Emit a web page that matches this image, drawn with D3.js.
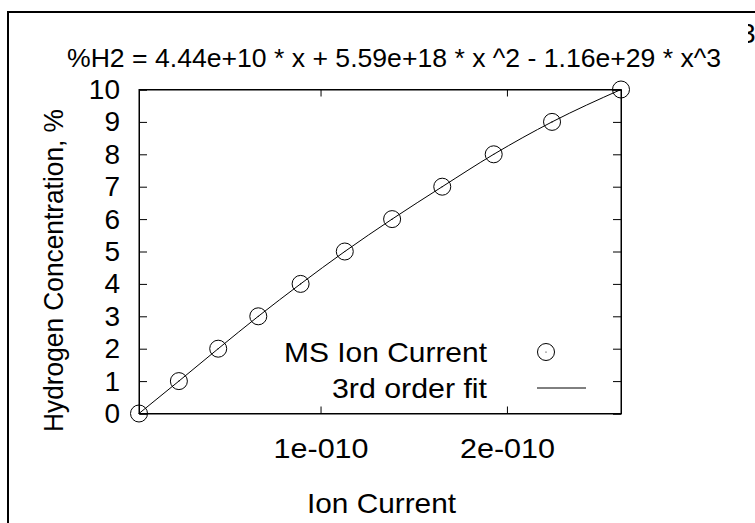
<!DOCTYPE html>
<html>
<head>
<meta charset="utf-8">
<script src="https://cdn.jsdelivr.net/npm/d3@7"></script>
<style>
  body { margin: 0; background: #fff; }
  text { font-family: "Liberation Sans", Arial, sans-serif; fill: #000; }
</style>
</head>
<body>
<div id="chart"></div>
<script>
// data
const ionCurrent = [2.6e-12, 2.40e-11, 4.51e-11, 6.66e-11, 8.93e-11, 1.130e-10,
                    1.384e-10, 1.653e-10, 1.929e-10, 2.242e-10, 2.612e-10];
const h2Percent = [0, 1, 2, 3, 4, 5, 6, 7, 8, 9, 10];
// fit curve as read at the same currents
const fitPercent = [0, 1.0, 2.0, 3.0, 4.0, 5.0, 6.0, 7.0, 8.0, 9.0, 10.0];
const yTicks = [0, 1, 2, 3, 4, 5, 6, 7, 8, 9, 10];
const xTicks = [1e-10, 2e-10];
const xTickLabels = ["1e-010", "2e-010"];
const seriesNames = ["MS Ion Current", "3rd order fit"];
const titleText = "%H2 = 4.44e+10 * x + 5.59e+18 * x ^2 - 1.16e+29 * x^3";

const W = 755, H = 523;
const FS = "28px";
const margin = {top: 89.5, right: 134, bottom: 109.5, left: 139};
const width = W - margin.left - margin.right,
      height = H - margin.top - margin.bottom;

const svg = d3.select("#chart")
    .append("svg")
    .attr("width", W)
    .attr("height", H);

// outer frame (runs off the right and bottom edges)
svg.append("path")
    .attr("d", `M8,${H + 5}V12H${W + 5}`)
    .attr("fill", "none")
    .attr("stroke", "#000")
    .attr("stroke-width", 2);

// clipped glyph at the top right
svg.append("clipPath").attr("id", "edgeClip")
    .append("rect").attr("x", 748).attr("y", 0).attr("width", 10).attr("height", 60);
svg.append("text")
    .attr("clip-path", "url(#edgeClip)")
    .attr("x", 740)
    .attr("y", 43)
    .attr("font-size", FS)
    .text("3");

svg.append("text")
    .attr("x", 67)
    .attr("y", 67)
    .attr("font-size", "26.6px")
    .text(titleText);

const g = svg.append("g")
    .attr("transform", `translate(${margin.left},${margin.top})`);

const x = d3.scaleLinear()
    .domain([ionCurrent[0], ionCurrent[ionCurrent.length - 1]])
    .range([0, width]);
const y = d3.scaleLinear().domain([0, 10]).range([height, 0]);

// axes: ticks point inwards, mirrored on the opposite side
g.append("g")
    .call(d3.axisLeft(y).tickValues(yTicks).tickSize(-8).tickPadding(19));
g.append("g")
    .attr("transform", `translate(${width},0)`)
    .call(d3.axisRight(y).tickValues(yTicks).tickSize(-8).tickFormat(""));
g.append("g")
    .attr("class", "xb")
    .attr("transform", `translate(0,${height})`)
    .call(d3.axisBottom(x).tickValues(xTicks).tickSize(-7).tickPadding(25)
        .tickFormat((d, i) => xTickLabels[i]));
g.append("g")
    .call(d3.axisTop(x).tickValues(xTicks).tickSize(-7).tickFormat(""));

g.selectAll(".domain").attr("stroke", "#000");
g.selectAll(".tick line").attr("stroke", "#000");
g.selectAll(".tick text")
    .attr("font-size", FS)
    .attr("font-family", "'Liberation Sans', Arial, sans-serif");
g.selectAll(".xb .tick text")
    .attr("textLength", 95)
    .attr("lengthAdjust", "spacingAndGlyphs");

// plot border
g.append("rect")
    .attr("x", 0).attr("y", 0)
    .attr("width", width).attr("height", height)
    .attr("fill", "none")
    .attr("stroke", "#000");

// fit line
const line = d3.line()
    .x((d, i) => x(ionCurrent[i]))
    .y(d => y(d))
    .curve(d3.curveMonotoneX);
g.append("path")
    .datum(fitPercent)
    .attr("d", line)
    .attr("fill", "none")
    .attr("stroke", "#000")
    .attr("stroke-width", 1);

// points
const pts = g.append("g").selectAll("g")
    .data(h2Percent)
    .join("g")
    .attr("transform", (d, i) => `translate(${x(ionCurrent[i])},${y(d)})`);
pts.append("circle")
    .attr("r", 8.5)
    .attr("fill", "none")
    .attr("stroke", "#000");
pts.append("circle")
    .attr("r", 0.6)
    .attr("fill", "#000");

// legend
const legendWidths = [203, 155];
const legend = svg.append("g");
legend.selectAll("text")
    .data(seriesNames)
    .join("text")
    .attr("x", 487)
    .attr("y", (d, i) => 362 + i * 36)
    .attr("text-anchor", "end")
    .attr("font-size", FS)
    .attr("textLength", (d, i) => legendWidths[i])
    .attr("lengthAdjust", "spacingAndGlyphs")
    .text(d => d);
legend.append("circle")
    .attr("cx", 546).attr("cy", 352)
    .attr("r", 8.5)
    .attr("fill", "none")
    .attr("stroke", "#000");
legend.append("circle")
    .attr("cx", 546).attr("cy", 352)
    .attr("r", 0.6)
    .attr("fill", "#000");
legend.append("line")
    .attr("x1", 537).attr("x2", 586)
    .attr("y1", 388).attr("y2", 388)
    .attr("stroke", "#000");

// axis titles
svg.append("text")
    .attr("x", 381.5)
    .attr("y", 513)
    .attr("text-anchor", "middle")
    .attr("font-size", FS)
    .attr("textLength", 149)
    .attr("lengthAdjust", "spacingAndGlyphs")
    .text("Ion Current");
svg.append("text")
    .attr("transform", "translate(63,270.5) rotate(-90)")
    .attr("text-anchor", "middle")
    .attr("font-size", FS)
    .attr("textLength", 323)
    .attr("lengthAdjust", "spacingAndGlyphs")
    .text("Hydrogen Concentration, %");
</script>
</body>
</html>
